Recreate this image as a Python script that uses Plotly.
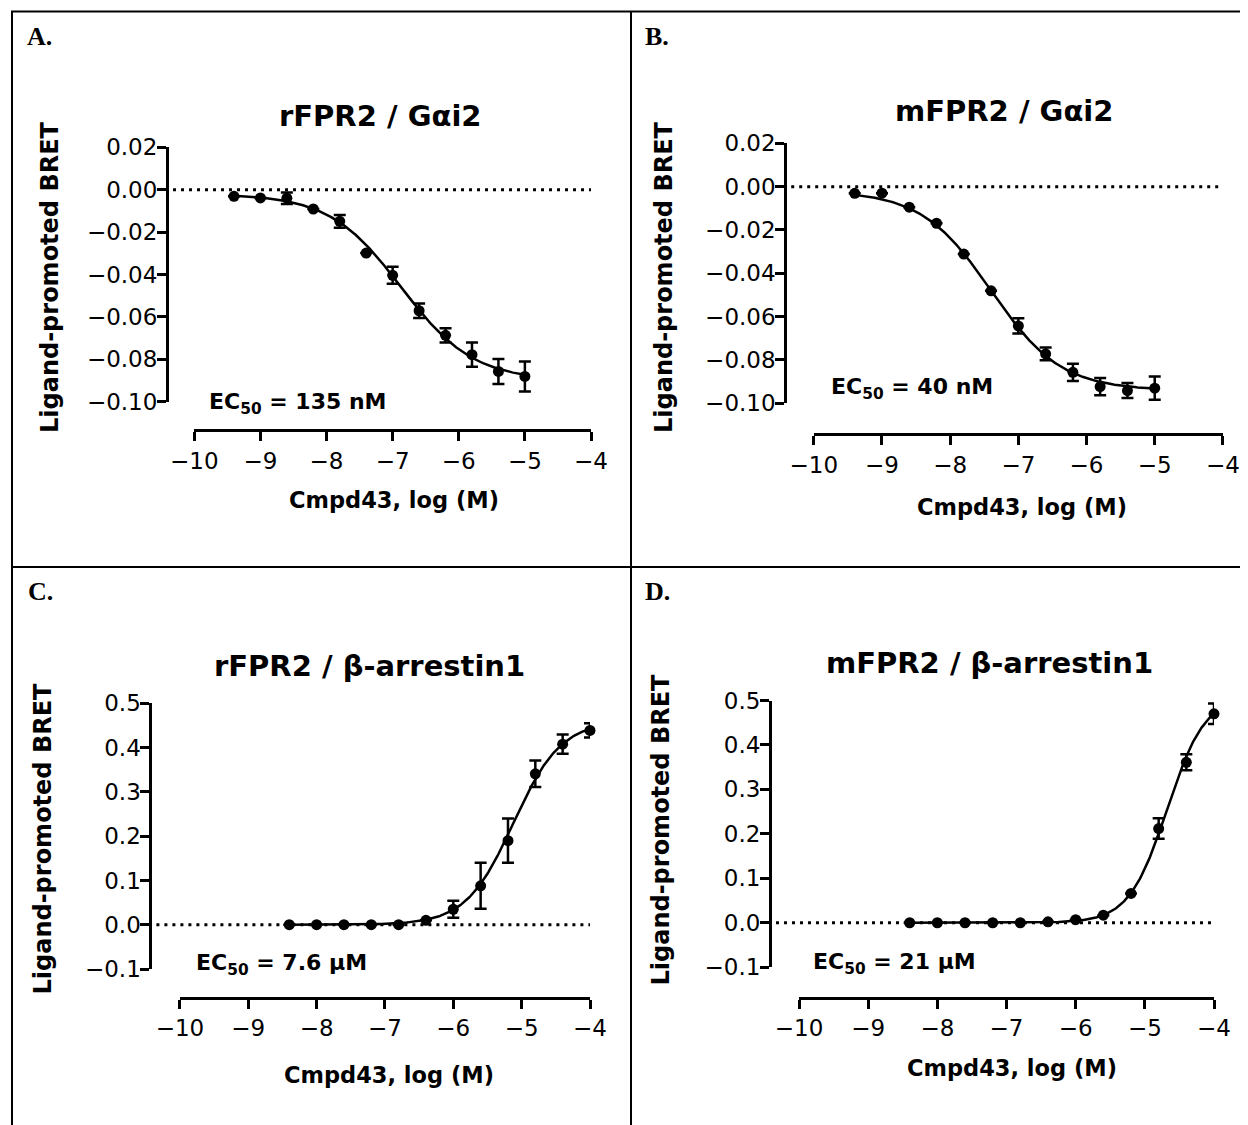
import numpy as np
import plotly.graph_objects as go

# ---------------- data ----------------
logM_G = [-9.4, -9.0, -8.6, -8.2, -7.8, -7.4, -7.0, -6.6, -6.2, -5.8, -5.4, -5.0]
logM_B = [-8.4, -8.0, -7.6, -7.2, -6.8, -6.4, -6.0, -5.6, -5.2, -4.8, -4.4, -4.0]

bret_A = [-0.0031, -0.0039, -0.0040, -0.0091, -0.0149, -0.0299, -0.0404, -0.0571, -0.0687, -0.0778, -0.0857, -0.0881]
sem_A = [0.0, 0.0, 0.0027, 0.0, 0.0030, 0.0, 0.0040, 0.0034, 0.0034, 0.0057, 0.0059, 0.0071]

bret_Bp = [-0.0031, -0.0030, -0.0095, -0.0169, -0.0311, -0.0481, -0.0643, -0.0772, -0.0857, -0.0923, -0.0941, -0.0930]
sem_Bp = [0.0, 0.0, 0.0, 0.0, 0.0, 0.0, 0.0035, 0.0029, 0.0040, 0.0040, 0.0035, 0.0054]

bret_C = [0.0, 0.0, 0.0, 0.0, 0.0, 0.010, 0.035, 0.088, 0.190, 0.341, 0.408, 0.439]
sem_C = [0.0, 0.0, 0.0, 0.0, 0.0, 0.0, 0.019, 0.052, 0.050, 0.030, 0.022, 0.016]

bret_D = [0.0, 0.0, 0.0, 0.0, 0.0, 0.002, 0.007, 0.017, 0.066, 0.212, 0.361, 0.470]
sem_D = [0.0, 0.0, 0.0, 0.0, 0.0, 0.0, 0.0, 0.0, 0.0, 0.023, 0.018, 0.023]

# sigmoidal fit parameters: left plateau, right plateau, logEC50, |Hill slope|
fit_A = [-0.002, -0.090, -6.87, 0.80]
fit_Bp = [-0.002, -0.094, -7.40, 0.85]
fit_C = [0.0, 0.46, -5.12, 1.25]
fit_D = [0.0, 0.51, -4.68, 1.58]

titles = ["rFPR2 / Gαi2", "mFPR2 / Gαi2", "rFPR2 / β-arrestin1", "mFPR2 / β-arrestin1"]
ec50_labels = ["135 nM", "40 nM", "7.6 μM", "21 μM"]
panel_letters = ["A.", "B.", "C.", "D."]
x_ticks = [-10, -9, -8, -7, -6, -5, -4]
y_ticks_G = [-0.10, -0.08, -0.06, -0.04, -0.02, 0.00, 0.02]
y_ticks_B = [-0.1, 0.0, 0.1, 0.2, 0.3, 0.4, 0.5]

# ---------------- layout geometry (pixels in the 1248x1125 page) ----------------
OFF = 8                      # page body margin
W, H = 1248 - OFF, 1125 - OFF
def px(x):
    return (x - OFF) / W
def py(y):
    return 1 - (y - OFF) / H

panels = [
    dict(x=logM_G, y=bret_A, e=sem_A, fit=fit_A, yr=[-0.10, 0.02], yt=y_ticks_G, fmt=".2f",
         yax_x=167, ydom=(147.3, 401.7), xax_y=430, xdom=(194.3, 591),
         title=(380, 116), ec=(207, 403), xt=(394, 500), yt_pos=(50, 277), let=(25, 36)),
    dict(x=logM_G, y=bret_Bp, e=sem_Bp, fit=fit_Bp, yr=[-0.10, 0.02], yt=y_ticks_G, fmt=".2f",
         yax_x=785.2, ydom=(143.3, 403.3), xax_y=434, xdom=(813.8, 1222.9),
         title=(1004, 111), ec=(829, 389), xt=(1021.5, 507), yt_pos=(664, 277), let=(643, 36)),
    dict(x=logM_B, y=bret_C, e=sem_C, fit=fit_C, yr=[-0.1, 0.5], yt=y_ticks_B, fmt=".1f",
         yax_x=150.4, ydom=(703.4, 969), xax_y=997.8, xdom=(179.9, 590),
         title=(369, 666), ec=(193.5, 964.5), xt=(389.4, 1075), yt_pos=(42, 838.5), let=(26, 591)),
    dict(x=logM_B, y=bret_D, e=sem_D, fit=fit_D, yr=[-0.1, 0.5], yt=y_ticks_B, fmt=".1f",
         yax_x=770, ydom=(700.5, 967.2), xax_y=997.8, xdom=(799, 1214),
         title=(989.5, 663), ec=(811, 963.5), xt=(1012, 1068), yt_pos=(660, 829.5), let=(643, 591)),
]

SANS = "DejaVu Sans"
SERIF = "Liberation Serif, Times New Roman, serif"

fig = go.Figure()
layout = dict(template="none", width=W, height=H, margin=dict(l=0, r=0, t=0, b=0, pad=0),
              paper_bgcolor="white", plot_bgcolor="white", showlegend=False,
              font=dict(family=SANS, color="black"))
shapes = []
annotations = []

for i, p in enumerate(panels):
    n = i + 1
    xa = "x" if n == 1 else f"x{n}"
    ya = "y" if n == 1 else f"y{n}"
    xkey = "xaxis" if n == 1 else f"xaxis{n}"
    ykey = "yaxis" if n == 1 else f"yaxis{n}"

    left, right, logec, hill = p["fit"]
    xc = np.linspace(p["x"][0], p["x"][-1], 300)
    yc = left + (right - left) / (1 + 10 ** ((logec - xc) * hill))

    fig.add_trace(go.Scatter(x=xc, y=yc, mode="lines", xaxis=xa, yaxis=ya,
                             line=dict(color="black", width=2.5), cliponaxis=False,
                             hoverinfo="skip"))
    fig.add_trace(go.Scatter(x=p["x"], y=p["y"], mode="markers", xaxis=xa, yaxis=ya,
                             marker=dict(size=11, color="black"), cliponaxis=False,
                             error_y=dict(type="data", array=p["e"], visible=True,
                                          color="black", thickness=2.5, width=6)))

    layout[xkey] = dict(domain=[px(p["xdom"][0]), px(p["xdom"][1])], range=[-10, -4],
                        anchor="free", position=py(p["xax_y"]), automargin=False,
                        showline=True, linecolor="black", linewidth=3,
                        ticks="outside", ticklen=9, tickwidth=3, tickcolor="black",
                        tickvals=x_ticks, tickfont=dict(family=SANS, size=23, color="black"),
                        showgrid=False, zeroline=False, fixedrange=True)
    layout[ykey] = dict(domain=[py(p["ydom"][1]), py(p["ydom"][0])], range=p["yr"],
                        anchor="free", position=px(p["yax_x"]), automargin=False,
                        showline=True, linecolor="black", linewidth=3,
                        ticks="outside", ticklen=9, tickwidth=3, tickcolor="black",
                        ticklabelstandoff=-5,
                        tickvals=p["yt"], tickformat=p["fmt"],
                        tickfont=dict(family=SANS, size=23, color="black"),
                        showgrid=False, zeroline=False, fixedrange=True)

    # dotted zero line
    shapes.append(dict(type="line", xref="paper", yref=ya,
                       x0=px(p["yax_x"] + 6), x1=px(p["xdom"][1]), y0=0, y1=0,
                       line=dict(color="black", width=3, dash="3px,5px"), layer="below"))

    annotations += [
        dict(text=f"<b>{titles[i]}</b>", x=px(p["title"][0]), y=py(p["title"][1]),
             xref="paper", yref="paper", xanchor="center", yanchor="middle", showarrow=False,
             font=dict(family=SANS, size=29, color="black")),
        dict(text=f"<b>EC<sub>50</sub> = {ec50_labels[i]}</b>", x=px(p["ec"][0]), y=py(p["ec"][1]),
             xref="paper", yref="paper", xanchor="left", yanchor="middle", showarrow=False,
             font=dict(family=SANS, size=22, color="black")),
        dict(text="<b>Cmpd43, log (M)</b>", x=px(p["xt"][0]), y=py(p["xt"][1]),
             xref="paper", yref="paper", xanchor="center", yanchor="middle", showarrow=False,
             font=dict(family=SANS, size=22.5, color="black")),
        dict(text="<b>Ligand-promoted BRET</b>", x=px(p["yt_pos"][0]), y=py(p["yt_pos"][1]),
             xref="paper", yref="paper", xanchor="center", yanchor="middle", showarrow=False,
             textangle=-90, font=dict(family=SANS, size=24, color="black")),
        dict(text=f"<b>{panel_letters[i]}</b>", x=px(p["let"][0]), y=py(p["let"][1]),
             xref="paper", yref="paper", xanchor="left", yanchor="middle", showarrow=False,
             font=dict(family=SERIF, size=26, color="black")),
    ]

# table-cell borders
border = dict(color="black", width=2)
shapes += [
    dict(type="line", xref="paper", yref="paper", x0=px(11), x1=1, y0=py(11.5), y1=py(11.5), line=border),
    dict(type="line", xref="paper", yref="paper", x0=px(11), x1=1, y0=py(567), y1=py(567), line=border),
    dict(type="line", xref="paper", yref="paper", x0=px(12), x1=px(12), y0=py(11), y1=0, line=border),
    dict(type="line", xref="paper", yref="paper", x0=px(631), x1=px(631), y0=py(11), y1=0, line=border),
]

layout["shapes"] = shapes
layout["annotations"] = annotations
fig.update_layout(**layout)
fig.write_html("out.html")
